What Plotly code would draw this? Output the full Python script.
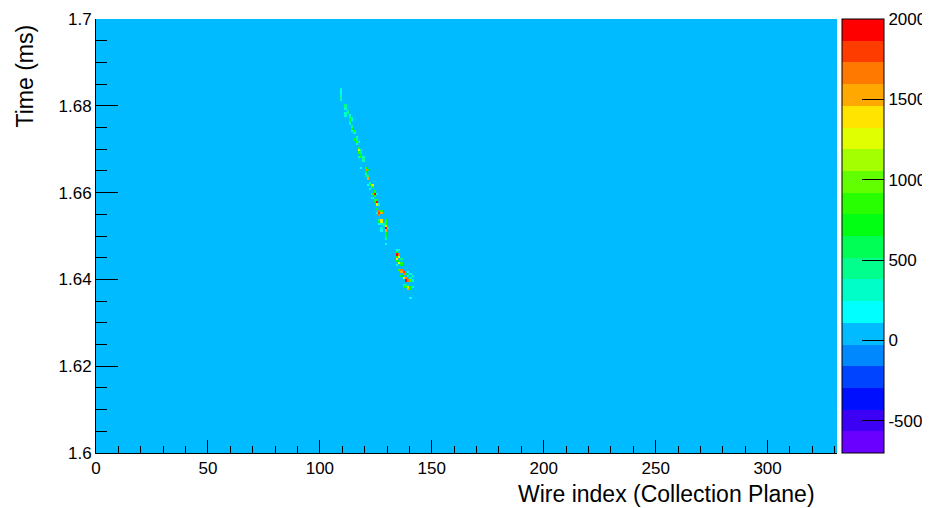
import numpy as np
import plotly.graph_objects as go

# ---- data -------------------------------------------------------------
n_wires = 331
t_min, t_max, t_bin = 1.6, 1.7, 0.0005

hit_wire = [109, 109, 109, 109, 109, 109,
            111, 111, 111, 111, 111, 112, 112,
            113, 113, 113, 113, 113, 114, 114,
            114, 115, 115, 114, 114,
            115, 116, 116, 117, 116, 116,
            117, 117, 117, 118, 118, 118, 117, 119, 118, 119, 119,
            118,
            120, 120, 120, 121, 120, 120, 121, 121,
            121, 122, 122,
            122, 123, 123,
            123, 124, 124, 124, 123, 125,
            124, 125, 125, 125, 126, 124,
            125, 126, 126, 126, 127, 127, 125,
            126, 126, 127, 127, 127, 126, 128, 128,
            127, 127,
            129, 129, 129, 129, 129, 129, 129, 129, 129, 129, 130,
            129,
            134, 135,
            134, 134, 134, 135, 135, 134, 134, 135, 136,
            135, 136, 136, 134,
            135, 136, 136, 137, 137, 138, 139, 140,
            136, 137, 138, 138, 139, 140, 140, 141, 139, 141,
            137, 137, 138, 139, 139, 140, 140, 141, 138,
            140]
hit_time = [1.6835, 1.6830, 1.6825, 1.6820, 1.6815, 1.6810,
            1.6800, 1.6795, 1.6790, 1.6780, 1.6775, 1.6785, 1.6780,
            1.6775, 1.6770, 1.6765, 1.6760, 1.6755, 1.6765, 1.6770,
            1.6745, 1.6740, 1.6735, 1.6740, 1.6750,
            1.6720, 1.6715, 1.6710, 1.6715, 1.6720, 1.6725,
            1.6700, 1.6695, 1.6690, 1.6695, 1.6685, 1.6680, 1.6680, 1.6680, 1.6690, 1.6675, 1.6670,
            1.6655,
            1.6655, 1.6650, 1.6645, 1.6650, 1.6640, 1.6635, 1.6630, 1.6635,
            1.6615, 1.6620, 1.6605,
            1.6615, 1.6615, 1.6610,
            1.6595, 1.6600, 1.6595, 1.6590, 1.6585, 1.6595,
            1.6575, 1.6580, 1.6575, 1.6570, 1.6570, 1.6580,
            1.6560, 1.6555, 1.6550, 1.6545, 1.6555, 1.6550, 1.6550,
            1.6535, 1.6530, 1.6535, 1.6530, 1.6525, 1.6525, 1.6525, 1.6520,
            1.6515, 1.6510,
            1.6535, 1.6530, 1.6525, 1.6520, 1.6515, 1.6510, 1.6505, 1.6500, 1.6495, 1.6490, 1.6515,
            1.6480,
            1.6465, 1.6465,
            1.6460, 1.6455, 1.6450, 1.6455, 1.6450, 1.6445, 1.6440, 1.6440, 1.6445,
            1.6435, 1.6435, 1.6430, 1.6430,
            1.6420, 1.6420, 1.6415, 1.6415, 1.6410, 1.6410, 1.6415, 1.6410,
            1.6405, 1.6400, 1.6395, 1.6400, 1.6395, 1.6395, 1.6400, 1.6395, 1.6405, 1.6405,
            1.6380, 1.6385, 1.6380, 1.6380, 1.6375, 1.6380, 1.6375, 1.6380, 1.6385,
            1.6355]
hit_adc = [250, 200, 300, 350, 450, 300,
           400, 500, 300, 350, 250, 450, 400,
           250, 600, 700, 400, 250, 200, 300,
           650, 800, 300, 350, 500,
           700, 900, 250, 300, 400, 300,
           750, 1300, 800, 400, 700, 900, 300, 350, 500, 500, 300,
           200,
           800, 1600, 700, 650, 350, 600, 1550, 500,
           200, 400, 350,
           700, 1400, 800,
           800, 900, 1950, 900, 300, 350,
           750, 850, 1900, 1350, 250, 400,
           650, 1650, 1850, 1600, 800, 1550, 300,
           400, 700, 1350, 1250, 250, 200, 300, 400,
           350, 200,
           700, 800, 650, 1250, 1900, 1500, 700, 750, 600, 400, 300,
           200,
           200, 250,
           800, 1900, 700, 1600, 1300, 1350, 750, 650, 450,
           1300, 900, 650, 350,
           800, 1650, 1550, 1800, 1700, 700, 200, 300,
           650, 1350, 1950, 1600, 1700, 800, 400, 350, 450, 300,
           700, 400, 800, 1400, 1550, 750, 650, 300, 500,
           200]

z_min, z_max = -700, 2000
cbar_ticks = [-500, 0, 500, 1000, 1500, 2000]

palette = ["#6a00ff", "#3c00f5", "#0010ff", "#0044ff", "#0088ff",
           "#00bbff", "#00ffff", "#00ffc8", "#00ff8c", "#00ff55",
           "#00ff12", "#28ff00", "#62ff00", "#a4ff00", "#e0ff00",
           "#ffe400", "#ffa800", "#ff7800", "#ff3c00", "#ff0000"]

# ---- build histogram -----------------------------------------------
n_tbins = int(round((t_max - t_min) / t_bin))
z = np.zeros((n_tbins, n_wires))
for w, t, a in zip(hit_wire, hit_time, hit_adc):
    k = int(round((t - t_min) / t_bin))
    z[k, w] = a
x_centers = np.arange(n_wires) + 0.5
y_centers = t_min + (np.arange(n_tbins) + 0.5) * t_bin

n = len(palette)
colorscale = []
for i, c in enumerate(palette):
    colorscale.append([i / n, c])
    colorscale.append([(i + 1) / n, c])

# page body has an 8px margin -> work in figure coords = page coords - 8
OFF = 8
W, H = 930 - OFF, 508 - OFF
L, T = 96 - OFF, 19 - OFF
R = W - (837 - OFF)
B = H - (453 - OFF)
pw = W - L - R
ph = H - T - B

fig = go.Figure(go.Heatmap(
    x=x_centers, y=y_centers, z=z,
    zmin=z_min, zmax=z_max, colorscale=colorscale,
    hoverinfo="skip",
    colorbar=dict(
        x=(842 - 96) / pw, xanchor="left", xpad=0, ypad=0,
        y=0.5, yanchor="middle", len=1, lenmode="fraction",
        thickness=42, thicknessmode="pixels",
        outlinewidth=1, outlinecolor="black",
        ticks="inside", ticklen=22, tickcolor="black", tickwidth=1,
        tickvals=cbar_ticks, ticktext=[str(v) for v in cbar_ticks],
        tickfont=dict(family="Liberation Sans, Arial", size=17, color="black"),
    ),
))

axis_font = dict(family="Liberation Sans, Arial", size=17, color="black")
fig.update_layout(
    width=W, height=H,
    margin=dict(l=L, r=R, t=T, b=B, autoexpand=False),
    paper_bgcolor="white", plot_bgcolor="white",
    font=axis_font,
    xaxis=dict(range=[0, n_wires], dtick=50, tick0=0, ticks="inside",
               ticklen=13, tickcolor="black", tickwidth=1,
               minor=dict(dtick=10, ticks="inside", ticklen=7,
                          tickcolor="black"),
               showgrid=False, zeroline=False, showline=True,
               linecolor="black", linewidth=1, mirror=False,
               automargin=False, tickfont=axis_font),
    yaxis=dict(range=[t_min, t_max], dtick=0.02, tick0=1.6, ticks="inside",
               ticklen=22, tickcolor="black", tickwidth=1,
               minor=dict(dtick=0.005, ticks="inside", ticklen=11,
                          tickcolor="black"),
               showgrid=False, zeroline=False, showline=True,
               linecolor="black", linewidth=1, mirror=False,
               automargin=False, tickfont=axis_font),
    annotations=[
        dict(text="Wire index (Collection Plane)", xref="paper", yref="paper",
             x=(817 - 96) / pw, y=-(494 - 453) / ph,
             xanchor="right", yanchor="middle", showarrow=False,
             font=dict(family="Liberation Sans, Arial", size=23, color="black")),
        dict(text="Time (ms)", xref="paper", yref="paper",
             x=-(96 - 25) / pw, y=1 - (23 - 19) / ph,
             xanchor="center", yanchor="top", textangle=-90, showarrow=False,
             font=dict(family="Liberation Sans, Arial", size=23, color="black")),
    ],
)

fig.write_html("out.html")
